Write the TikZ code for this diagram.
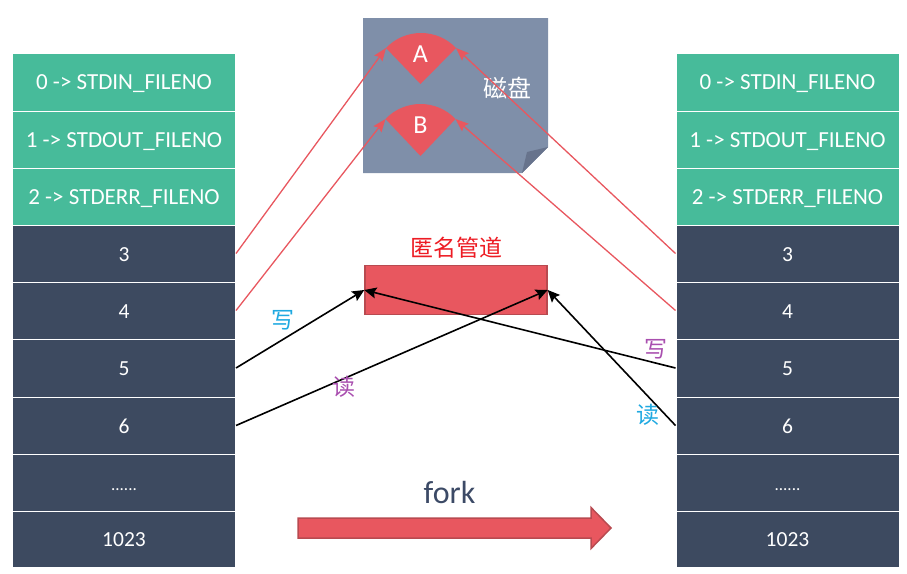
\documentclass[tikz,border=0pt]{standalone}
\usepackage{fontspec}
\setmainfont{Carlito}
\newfontfamily\cjk{Noto Sans CJK SC}
\usetikzlibrary{arrows.meta}
\definecolor{cellgreen}{HTML}{47BB9A}
\definecolor{celldark}{HTML}{3D4A60}
\definecolor{paper}{HTML}{7F8FA9}
\definecolor{foldc}{HTML}{67738C}
\definecolor{redfill}{HTML}{E8575F}
\definecolor{redline}{HTML}{B84A50}
\definecolor{titlered}{HTML}{ED1C24}
\definecolor{cyanlab}{HTML}{1FA9E1}
\definecolor{purplab}{HTML}{A94FAF}
\definecolor{forkc}{HTML}{3C4A66}
\tikzset{
  cellbox/.style={rectangle,draw=white,line width=1pt,inner sep=0pt,minimum width=223pt,text=white,text height=15pt,text depth=0pt},
  redarrow/.style={draw=redfill,line width=1.3pt,-{Stealth[length=13pt,width=10pt,inset=2pt]}},
  blackarrow/.style={draw=black,line width=1.6pt,-{Stealth[length=12pt,width=11pt,inset=2pt]}},
  cjklabel/.style={inner sep=0pt,font=\cjk\fontsize{23}{26}\selectfont},
  sector/.style={fill=redfill,draw=none},
  letter/.style={inner sep=0pt,text=white,font=\fontsize{26}{30}\selectfont},
}
\begin{document}
\begin{tikzpicture}[x=1pt,y=-1pt]
\useasboundingbox (0,0) rectangle (907,573);
% descriptor tables
\foreach \sd/\cx in {L/124,R/787.5}{
  \foreach \i/\top/\bot/\c/\fs/\t in {
    0/53.5/111/cellgreen/23/{0 -> STDIN\_FILENO},
    1/111/168/cellgreen/23/{1 -> STDOUT\_FILENO},
    2/168/225/cellgreen/23/{2 -> STDERR\_FILENO},
    3/225/282/celldark/21.5/{3},
    4/282/339/celldark/21.5/{4},
    5/339/397/celldark/21.5/{5},
    6/397/454/celldark/21.5/{6},
    7/454/511/celldark/17/{......},
    8/511/567/celldark/21.5/{1023}}{
    \pgfmathsetmacro{\hh}{\bot-\top}
    \pgfmathsetmacro{\cy}{(\bot+\top)/2}
    \node[cellbox,fill=\c,minimum height=\hh pt,font=\fontsize{\fs}{26}\selectfont] (\sd\i) at (\cx,\cy) {\t};
  }
}
% disk
\path[fill=paper] (363,18) -- (548,18) -- (548,147) -- (522,173) -- (363,173) -- cycle;
\path[fill=foldc] (527,152) -- (548,147) -- (522,173) -- cycle;
\coordinate (Al) at (386,48);
\coordinate (Ar) at (456,48);
\coordinate (Bl) at (385.5,119);
\coordinate (Br) at (455.5,119);
\path[sector] (420.5,84) -- (Al) .. controls (405,28) and (437,28) .. (Ar) -- cycle;
\path[sector] (420.5,156) -- (Bl) .. controls (404.5,99) and (436.5,99) .. (Br) -- cycle;
\node[letter] (A) at (420.5,54) {A};
\node[letter] (B) at (420.5,125) {B};
\node[cjklabel,text=white,font=\cjk\fontsize{24}{27}\selectfont] (disk) at (507,88) {磁盘};
% pipe
\node[rectangle,draw=redline,fill=redfill,line width=1.4pt,minimum width=182pt,minimum height=49pt,inner sep=0pt] (pipe) at (456,290) {};
\node[cjklabel,text=titlered] (pipetitle) at (456,248) {匿名管道};
% connectors
\draw[redarrow] (L3.east) -- (Al);
\draw[redarrow] (L4.east) -- (Bl);
\draw[redarrow] (R3.west) -- (Ar);
\draw[redarrow] (R4.west) -- (Br);
\draw[blackarrow] (L5.east) -- (pipe.west);
\draw[blackarrow] (L6.east) -- (pipe.east);
\draw[blackarrow] (R5.west) -- (pipe.west);
\draw[blackarrow] (R6.west) -- (pipe.east);
% labels
\node[cjklabel,text=cyanlab] (w1) at (283,320) {写};
\node[cjklabel,text=purplab] (r1) at (344,387) {读};
\node[cjklabel,text=purplab] (w2) at (656,349) {写};
\node[cjklabel,text=cyanlab] (r2) at (648,415) {读};
% fork
\path[fill=redfill,draw=redline,line width=1.5pt] (298,518) -- (591,518) -- (591,507.5) -- (611,528) -- (591,548.5) -- (591,538) -- (298,538) -- cycle;
\node[inner sep=0pt,text=forkc,font=\fontsize{32}{36}\selectfont] (fork) at (449.5,492) {fork};
\end{tikzpicture}
\end{document}
